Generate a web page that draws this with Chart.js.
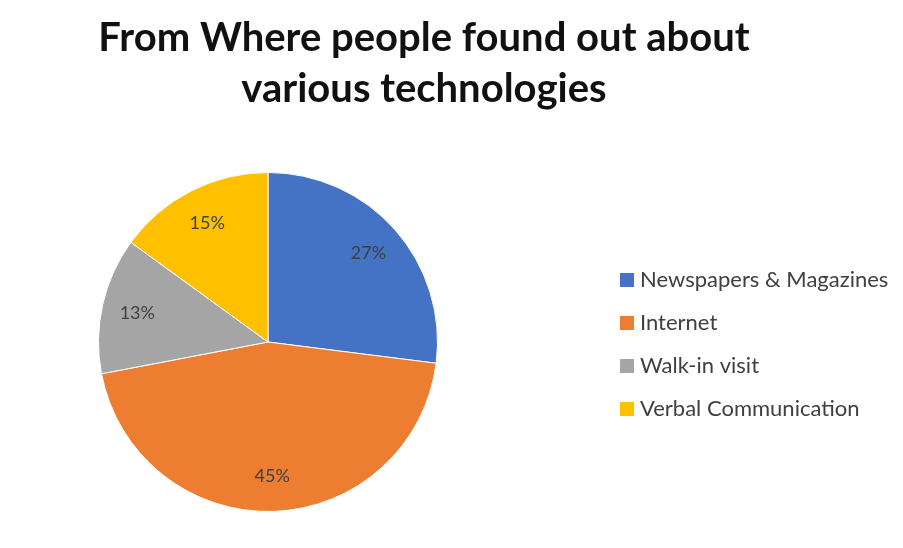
<!DOCTYPE html>
<html>
<head>
<meta charset="utf-8">
<script src="https://cdn.jsdelivr.net/npm/chart.js@4.4.1/dist/chart.umd.min.js"></script>
<style>
  html, body { margin: 0; padding: 0; background: #fff; }
</style>
</head>
<body>
<canvas id="pie" width="903" height="548"></canvas>
<script>
var categories = ['Newspapers & Magazines', 'Internet', 'Walk-in visit', 'Verbal Communication'];
var percentages = [27, 45, 13, 15];
var sliceColors = ['#4472C4', '#ED7D31', '#A5A5A5', '#FFC000'];
var titleLines = ['From Where people found out about', 'various technologies'];

/**
* Zet het percentage midden in elke taartpunt.
**/
var sliceLabels = {
  id: 'sliceLabels',
  afterDatasetsDraw(chart){
    var ctx = chart.ctx;
    var meta = chart.getDatasetMeta(0);
    ctx.save();
    ctx.font = '18px Lato';
    ctx.fillStyle = '#404040';
    ctx.textAlign = 'center';
    ctx.textBaseline = 'middle';
    meta.data.forEach(function(arc, i){
      var mid = (arc.startAngle + arc.endAngle) / 2;
      var r = arc.outerRadius * 0.79;
      ctx.fillText(percentages[i] + '%', arc.x + Math.cos(mid) * r, arc.y + Math.sin(mid) * r);
    });
    ctx.restore();
  }
};

/**
* Titel en legenda: de ingebouwde versies centreren alles op het canvas,
* hier staat de titel breder dan de taart en de legenda los rechts.
**/
var sideText = {
  id: 'sideText',
  afterDraw(chart){
    var ctx = chart.ctx;
    ctx.save();
    ctx.fillStyle = '#111111';
    ctx.font = 'bold 40px Lato';
    ctx.textAlign = 'center';
    ctx.textBaseline = 'alphabetic';
    titleLines.forEach(function(line, i){
      ctx.fillText(line, 424, 51 + i * 51);
    });

    ctx.font = '22px Lato';
    ctx.textAlign = 'left';
    ctx.textBaseline = 'middle';
    categories.forEach(function(label, i){
      var y = 280 + i * 43;
      ctx.fillStyle = sliceColors[i];
      ctx.fillRect(620, y - 7, 14, 14);
      ctx.fillStyle = '#404040';
      ctx.fillText(label, 640, y);
    });
    ctx.restore();
  }
};

new Chart(document.getElementById('pie'), {
  type: 'pie',
  data: {
    labels: categories,
    datasets: [{
      data: percentages,
      backgroundColor: sliceColors,
      borderColor: '#ffffff',
      borderWidth: 1
    }]
  },
  options: {
    responsive: false,
    animation: false,
    layout: {
      padding: {left: 0, right: 367, top: 172, bottom: 36}
    },
    plugins: {
      title: {display: false},
      legend: {display: false},
      tooltip: {enabled: false}
    }
  },
  plugins: [sliceLabels, sideText]
});
</script>
</body>
</html>
